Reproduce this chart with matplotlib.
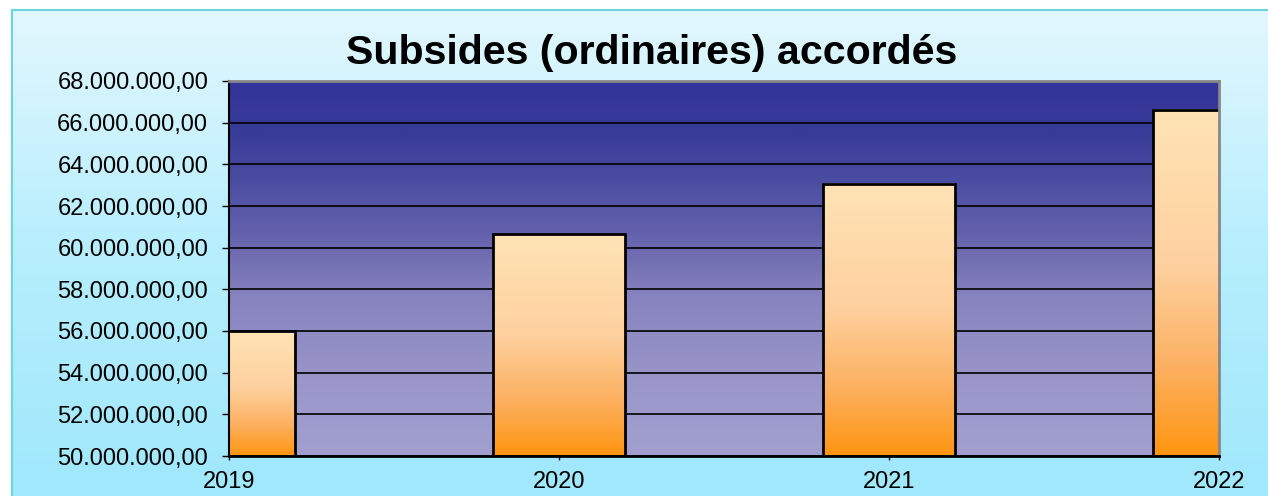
import numpy as np
import matplotlib
matplotlib.use('Agg')
import matplotlib.pyplot as plt
from matplotlib.colors import LinearSegmentedColormap
from matplotlib.ticker import FuncFormatter, MultipleLocator

plt.rcParams['font.family'] = ['Liberation Sans', 'DejaVu Sans']

# ---- data ----
years = [2019, 2020, 2021, 2022]
values = [56.0e6, 60.64e6, 63.07e6, 66.61e6]
title = 'Subsides (ordinaires) accordés'
y_min, y_max, y_step = 50e6, 68e6, 2e6

fig = plt.figure(figsize=(12.68, 4.96), dpi=100, facecolor='white')

# chart-area background gradient (inside the outer border)
bx0, by1 = 12 / 1268, 1 - 10 / 496
bg = fig.add_axes([bx0, 0, 1 - bx0, by1], zorder=-10)
grad = np.linspace(0, 1, 256).reshape(-1, 1)
bg_cmap = LinearSegmentedColormap.from_list('bg', ['#a0e8fc', '#b6eefd', '#e2f7fe'])
bg.imshow(grad, aspect='auto', cmap=bg_cmap, origin='lower', extent=[0, 1, 0, 1])
bg.set_xlim(0, 1)
bg.set_ylim(0, 1)
bg.set_xticks([])
bg.set_yticks([])
for s in ['left', 'top']:
    bg.spines[s].set_color('#6ad6dc')
    bg.spines[s].set_linewidth(1.5)
for s in ['right', 'bottom']:
    bg.spines[s].set_visible(False)

ax = fig.add_axes([229 / 1268, 1 - 456 / 496, (1219 - 229) / 1268, (456 - 81) / 496])

# plot-area gradient (top dark blue -> bottom lavender)
plot_cmap = LinearSegmentedColormap.from_list('pa', [
    (0.0, '#333399'), (0.15, '#3a3c99'), (0.3, '#5052a4'), (0.4, '#6260ab'),
    (0.58, '#8783bf'), (0.8, '#9a96ca'), (1.0, '#a29fd0')])
ax.imshow(grad, aspect='auto', cmap=plot_cmap, origin='upper', extent=[0, 1, 0, 1],
          transform=ax.transAxes, zorder=0)

bar_cmap = LinearSegmentedColormap.from_list('bar', [
    (0.0, '#ffe3b5'), (0.45, '#fed19f'), (0.75, '#fcb060'), (1.0, '#ff9510')])

bars = ax.bar(years, [v - y_min for v in values], bottom=y_min, width=0.4,
              facecolor='none', edgecolor='black', linewidth=2, zorder=3)

ax.set_xlim(years[0], years[-1])
ax.set_ylim(y_min, y_max)

xl0, xl1 = ax.get_xlim()
for b in bars:
    x0 = max(b.get_x(), xl0)
    x1 = min(b.get_x() + b.get_width(), xl1)
    y0 = b.get_y()
    ax.imshow(grad, aspect='auto', cmap=bar_cmap, origin='upper',
              extent=[x0, x1, y0, y0 + b.get_height()], zorder=2)

ax.set_xlim(years[0], years[-1])
ax.set_ylim(y_min, y_max)
ax.set_aspect('auto')

ax.yaxis.set_major_locator(MultipleLocator(y_step))
ax.set_xticks(years)
ax.set_xticklabels([str(y) for y in years])
ax.yaxis.set_major_formatter(FuncFormatter(
    lambda v, p: f"{v:,.2f}".replace(',', 'X').replace('.', ',').replace('X', '.')))

ax.set_axisbelow(True)
ax.yaxis.grid(True, color='black', linewidth=1.2, zorder=1)

ax.tick_params(axis='y', direction='out', length=5, width=1, pad=10, labelsize=17)
ax.tick_params(axis='x', direction='out', length=3, width=1, pad=8, labelsize=17)

ax.spines['left'].set_color('black'); ax.spines['left'].set_linewidth(1.5)
ax.spines['bottom'].set_color('black'); ax.spines['bottom'].set_linewidth(2)
for s in ['top', 'right']:
    ax.spines[s].set_color('#888888'); ax.spines[s].set_linewidth(2)
for s in ax.spines.values():
    s.set_zorder(4)

fig.text(0.514, 1 - 63.5 / 496, title, ha='center', va='baseline',
         fontsize=29.6, fontweight='bold')

fig.savefig('out.png', dpi=100, facecolor='white')
